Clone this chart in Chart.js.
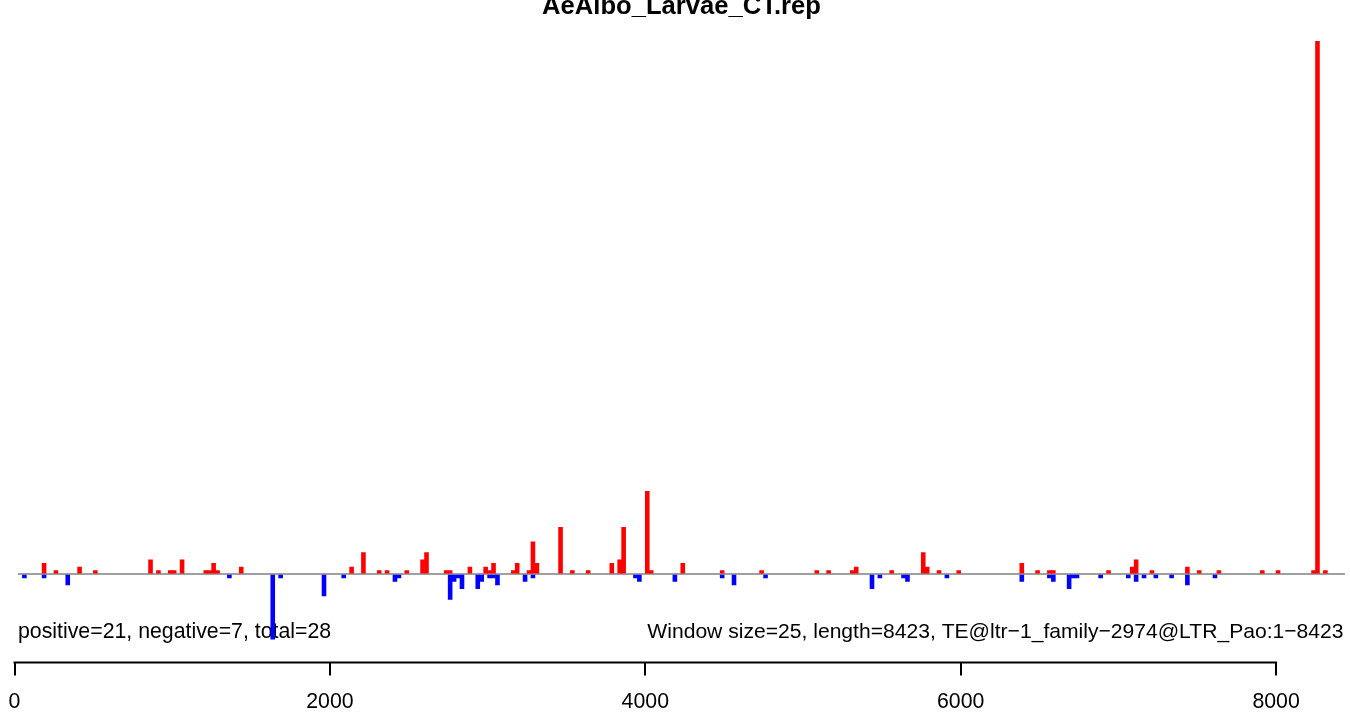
<!DOCTYPE html>
<html>
<head>
<meta charset="utf-8">
<script src="https://cdn.jsdelivr.net/npm/chart.js@4/dist/chart.umd.min.js"></script>
<style>
  html, body { margin: 0; padding: 0; background: #fff; }
  #wrap { width: 1350px; height: 713px; position: relative; }
</style>
</head>
<body>
<div id="wrap"><canvas id="repChart" width="1350" height="713"></canvas></div>
<script>
// window start positions (bp) and read counts, window size 25
const windowSize = 25;
const seqLength = 8423;

const posStarts = [175, 250, 400, 500, 850, 900, 975, 1000, 1050, 1200, 1225, 1250, 1275, 1425,
  2125, 2200, 2300, 2350, 2475, 2575, 2600, 2725, 2750, 2875, 2975, 3000, 3025, 3150, 3175,
  3250, 3275, 3300, 3450, 3525, 3625, 3775, 3825, 3850, 4000, 4025, 4225, 4475, 4725, 5075,
  5150, 5300, 5325, 5550, 5750, 5775, 5850, 5975, 6375, 6475, 6550, 6575, 6925, 7075, 7100,
  7200, 7425, 7500, 7625, 7900, 8000, 8225, 8250, 8300];
const posCounts = [3, 1, 2, 1, 4, 1, 1, 1, 4, 1, 1, 3, 1, 2,
  2, 6, 1, 1, 1, 4, 6, 1, 1, 2, 2, 1, 3, 1, 3,
  1, 9, 3, 13, 1, 1, 3, 4, 13, 23, 1, 3, 1, 1, 1,
  1, 1, 2, 1, 6, 2, 1, 1, 3, 1, 1, 1, 1, 2, 4,
  1, 2, 1, 1, 1, 1, 1, 148, 1];

const negStarts = [50, 175, 325, 1350, 1625, 1675, 1950, 2075, 2400, 2425, 2750, 2775, 2800,
  2825, 2925, 2950, 3000, 3025, 3050, 3225, 3275, 3925, 3950, 4175, 4475, 4550, 4750, 5425,
  5475, 5625, 5650, 5900, 6375, 6550, 6575, 6675, 6700, 6725, 6875, 7050, 7100, 7150, 7225,
  7325, 7425, 7600];
const negCounts = [-1, -1, -3, -1, -18, -1, -6, -1, -2, -1, -7, -2, -1,
  -4, -4, -2, -1, -1, -3, -2, -1, -1, -2, -2, -1, -3, -1, -4,
  -1, -1, -2, -1, -2, -1, -2, -4, -1, -1, -1, -1, -2, -1, -1,
  -1, -3, -1];

const xTicks = [0, 2000, 4000, 6000, 8000];

const titleText = 'AeAlbo_Larvae_CT.rep';
const leftNote = 'positive=21, negative=7, total=28';
const rightNote = 'Window size=25, length=8423, TE@ltr\u22121_family\u22122974@LTR_Pao:1\u22128423';

const FONT = '"Liberation Sans", Arial, Helvetica, sans-serif';

function toPoints(starts, counts) {
    return starts.map((s, i) => ({ x: s + windowSize / 2, y: counts[i] }));
}

// notes go under the bars, title and R style axis line (first to last tick) on top
const decorPlugin = {
    id: 'decor',
    beforeDatasetsDraw(chart) {
        const ctx = chart.ctx;
        ctx.save();
        ctx.fillStyle = '#000';
        ctx.textBaseline = 'alphabetic';
        ctx.font = '21.3px ' + FONT;
        ctx.textAlign = 'left';
        ctx.fillText(leftNote, 18, 638);
        ctx.font = '21.1px ' + FONT;
        ctx.textAlign = 'right';
        ctx.fillText(rightNote, 1343.5, 638);
        ctx.restore();
    },
    afterDraw(chart) {
        const ctx = chart.ctx;
        const area = chart.chartArea;
        const xs = chart.scales.x;
        ctx.save();
        ctx.fillStyle = '#000';
        ctx.font = 'bold 25.6px ' + FONT;
        ctx.textAlign = 'center';
        ctx.textBaseline = 'alphabetic';
        ctx.fillText(titleText, (area.left + area.right) / 2, 13.5);

        const x0 = xs.getPixelForValue(xTicks[0]);
        const x1 = xs.getPixelForValue(xTicks[xTicks.length - 1]);
        ctx.strokeStyle = '#000';
        ctx.lineWidth = 2;
        ctx.beginPath();
        ctx.moveTo(x0 - 1, xs.top);
        ctx.lineTo(x1 + 1, xs.top);
        ctx.stroke();
        ctx.restore();
    }
};

const chart = new Chart(document.getElementById('repChart').getContext('2d'), {
    type: 'bar',
    data: {
        datasets: [
            {
                label: 'positive',
                data: toPoints(posStarts, posCounts),
                backgroundColor: '#ff0000',
                borderWidth: 0
            },
            {
                label: 'negative',
                data: toPoints(negStarts, negCounts),
                backgroundColor: '#0000ff',
                borderWidth: 0
            }
        ]
    },
    options: {
        responsive: false,
        animation: false,
        devicePixelRatio: 1,
        grouped: false,
        barPercentage: 1,
        categoryPercentage: 1,
        layout: {
            padding: { top: 41, left: 18, right: 5, bottom: -15.5 }
        },
        plugins: {
            legend: { display: false },
            title: { display: false },
            tooltip: { enabled: false }
        },
        scales: {
            x: {
                type: 'linear',
                offset: false,
                min: 22,
                max: 8437,
                afterBuildTicks: axis => { axis.ticks = xTicks.map(v => ({ value: v })); },
                border: { display: false },
                grid: {
                    offset: false,
                    drawOnChartArea: false,
                    drawTicks: true,
                    tickLength: 13,
                    color: '#000',
                    lineWidth: 2
                },
                ticks: {
                    autoSkip: false,
                    maxRotation: 0,
                    padding: 0,
                    color: '#000',
                    font: { family: FONT, size: 21.3, lineHeight: 2.49 },
                    callback: v => String(v)
                }
            },
            y: {
                min: -24.5,
                max: 148,
                afterBuildTicks: axis => { axis.ticks = [{ value: 0 }]; },
                border: { display: false },
                grid: {
                    drawTicks: false,
                    color: '#a0a0a0',
                    lineWidth: 2
                },
                ticks: { display: false }
            }
        }
    },
    plugins: [decorPlugin]
});
</script>
</body>
</html>
